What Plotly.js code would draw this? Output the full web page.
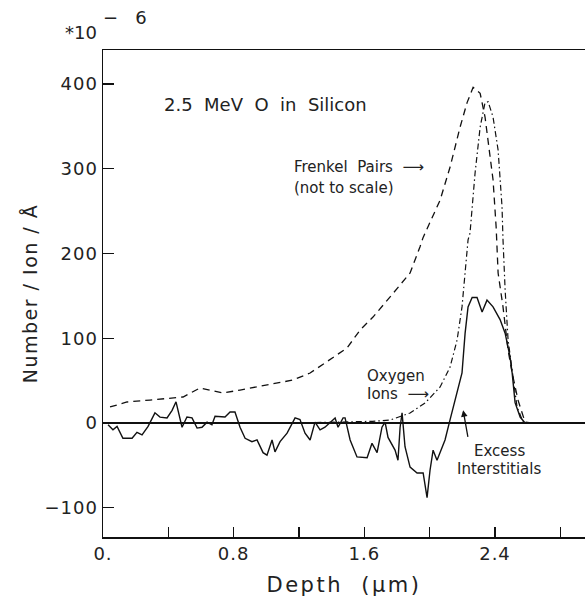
<!DOCTYPE html>
<html>
<head>
<meta charset="utf-8">
<script src="https://cdn.plot.ly/plotly-3.0.1.min.js"></script>
<style>
  html, body { margin: 0; padding: 0; background: #fff; }
  #chart { width: 585px; height: 603px; }
  .xtitle { letter-spacing: 2.5px; }
  .ytitle { letter-spacing: 1.5px; }
  .xtick text, .ytick text { letter-spacing: 1px; }
</style>
</head>
<body>
<div id="chart"></div>
<script>
// Frenkel pairs (not to scale), dashed
const frenkelX = [0.043, 0.147, 0.288, 0.429, 0.49, 0.594, 0.655, 0.735, 0.839, 1.004, 1.163, 1.268, 1.408, 1.494, 1.574, 1.653, 1.776, 1.88, 1.941, 1.96, 2.064, 2.125, 2.186, 2.229, 2.266, 2.309, 2.339, 2.388, 2.407, 2.419, 2.449, 2.48, 2.505, 2.541, 2.584, 2.62];
const frenkelY = [18.9, 24.8, 27.1, 29.5, 30.7, 41.3, 38.9, 35.4, 38.9, 44.8, 50.7, 59.0, 77.9, 88.5, 109.7, 125, 153, 177, 208, 219, 263, 302, 349, 378, 396, 389, 361, 287, 231, 177, 137, 86, 59, 27, 1, 0];

// Oxygen ions, dash-dot
const oxygenX = [1.30, 1.50, 1.65, 1.757, 1.88, 1.972, 2.064, 2.125, 2.168, 2.198, 2.217, 2.235, 2.247, 2.278, 2.309, 2.339, 2.358, 2.388, 2.419, 2.443, 2.449, 2.462, 2.48, 2.505, 2.535, 2.572, 2.60];
const oxygenY = [0.5, 1, 2, 3.5, 11.8, 23.6, 42.5, 66, 98, 137, 177, 216, 224, 295, 349, 378, 379, 361, 322, 255, 216, 157, 98, 59, 19, 1, 0];

// Excess interstitials, solid
const excessX = [0.031, 0.061, 0.086, 0.122, 0.178, 0.208, 0.239, 0.276, 0.318, 0.349, 0.392, 0.423, 0.447, 0.484, 0.514, 0.545, 0.576, 0.606, 0.637, 0.667, 0.686, 0.747, 0.778, 0.808, 0.839, 0.870, 0.912, 0.943, 0.980, 1.004, 1.035, 1.053, 1.084, 1.127, 1.176, 1.206, 1.237, 1.268, 1.298, 1.329, 1.359, 1.390, 1.421, 1.439, 1.470, 1.482, 1.513, 1.555, 1.617, 1.647, 1.678, 1.708, 1.727, 1.745, 1.788, 1.806, 1.819, 1.831, 1.849, 1.880, 1.923, 1.960, 1.984, 2.002, 2.021, 2.045, 2.094, 2.125, 2.156, 2.198, 2.217, 2.235, 2.260, 2.290, 2.321, 2.351, 2.388, 2.431, 2.462, 2.492, 2.505, 2.523, 2.554, 2.584, 2.95];
const excessY = [-2, -8, -4, -18, -18, -11, -14, -4, 12, 7, 6, 15, 25, -5, 7, 6, -6, -5, 1, -2, 8, 7, 13, 13, -5, -18, -22, -20, -35, -38, -20, -34, -22, -12, 6, 4, -12, -20, 1, -8, -5, 0, 6, -5, 6, 6, -20, -40, -41, -24, -35, -5, 1, -17, -32, -44, -5, 12, -28, -52, -59, -59, -88, -56, -32, -44, -20, 4, 27, 59, 106, 137, 148, 148, 131, 145, 137, 122, 106, 78, 59, 24, 7, 0, 0];

// Axis ticks
const xTickVals = [0, 0.4, 0.8, 1.2, 1.6, 2.0, 2.4, 2.8];
const xTickText = ["0.", "", "0.8", "", "1.6", "", "2.4", ""];
const yTickVals = [-100, 0, 100, 200, 300, 400];
const yTickText = ["\u2212100", "0", "100", "200", "300", "400"];

const FONT = "DejaVu Sans, Liberation Sans, sans-serif";
const INK = "#111";

const traces = [
  { x: frenkelX, y: frenkelY, mode: "lines", line: { color: INK, width: 1.3, dash: "7px,5px" }, showlegend: false, hoverinfo: "skip" },
  { x: oxygenX, y: oxygenY, mode: "lines", line: { color: INK, width: 1.2, dash: "6px,3px,1.5px,3px" }, showlegend: false, hoverinfo: "skip" },
  { x: excessX, y: excessY, mode: "lines", line: { color: INK, width: 1.4 }, showlegend: false, hoverinfo: "skip" }
];

function pxX(p) { return (p - 103) / 482; }
function pxY(p) { return (537 - p) / 487; }

const annFont = { family: FONT, size: 15, color: "#222" };
const annotations = [
  { xref: "paper", yref: "paper", x: pxX(63), y: pxY(33), xanchor: "left", yanchor: "middle", text: "*10", showarrow: false, font: { family: FONT, size: 18, color: "#222" } },
  { xref: "paper", yref: "paper", x: pxX(101), y: pxY(18), xanchor: "left", yanchor: "middle", text: "\u2212\u00a0\u00a0\u00a06", showarrow: false, font: { family: FONT, size: 18, color: "#222" } },
  { xref: "paper", yref: "paper", x: pxX(162), y: pxY(105), xanchor: "left", yanchor: "middle", text: "2.5\u00a0\u00a0MeV\u00a0\u00a0O\u00a0\u00a0in\u00a0\u00a0Silicon", showarrow: false, font: { family: FONT, size: 18, color: "#222" } },
  { xref: "paper", yref: "paper", x: pxX(292), y: pxY(167), xanchor: "left", yanchor: "middle", text: "Frenkel\u00a0\u00a0Pairs\u00a0\u00a0\u27f6", showarrow: false, font: annFont },
  { xref: "paper", yref: "paper", x: pxX(292), y: pxY(188), xanchor: "left", yanchor: "middle", text: "(not to scale)", showarrow: false, font: annFont },
  { xref: "paper", yref: "paper", x: pxX(365), y: pxY(376), xanchor: "left", yanchor: "middle", text: "Oxygen", showarrow: false, font: annFont },
  { xref: "paper", yref: "paper", x: pxX(365), y: pxY(394), xanchor: "left", yanchor: "middle", text: "Ions\u00a0\u00a0\u27f6", showarrow: false, font: annFont },
  { xref: "paper", yref: "paper", x: pxX(499), y: pxY(451), xanchor: "center", yanchor: "middle", text: "Excess", showarrow: false, font: annFont },
  { xref: "paper", yref: "paper", x: pxX(499), y: pxY(469), xanchor: "center", yanchor: "middle", text: "Interstitials", showarrow: false, font: annFont },
  { xref: "x", yref: "y", x: 2.205, y: 15, ax: 5, ay: 28, text: "", showarrow: true, arrowhead: 2, arrowsize: 1, arrowwidth: 1.3, arrowcolor: INK, standoff: 0 }
];

const layout = {
  width: 585,
  height: 603,
  margin: { l: 103, r: 0, t: 50, b: 66, pad: 0 },
  paper_bgcolor: "#fff",
  plot_bgcolor: "#fff",
  font: { family: FONT, color: "#222" },
  showlegend: false,
  xaxis: {
    range: [0, 2.951],
    tickmode: "array",
    tickvals: xTickVals,
    ticktext: xTickText,
    ticks: "inside",
    ticklen: 10,
    tickwidth: 1.3,
    tickcolor: INK,
    showline: true,
    linecolor: INK,
    linewidth: 1.5,
    mirror: true,
    showgrid: false,
    zeroline: false,
    tickfont: { family: FONT, size: 18, color: "#222" },
    title: { text: "Depth\u00a0\u00a0(\u03bcm)", font: { family: FONT, size: 21, color: "#222" }, standoff: 14 },
    fixedrange: true
  },
  yaxis: {
    range: [-134.5, 440.1],
    tickmode: "array",
    tickvals: yTickVals,
    ticktext: yTickText,
    ticks: "inside",
    ticklen: 11,
    tickwidth: 1.3,
    tickcolor: INK,
    showline: true,
    linecolor: INK,
    linewidth: 1.5,
    mirror: false,
    showgrid: false,
    zeroline: true,
    zerolinecolor: INK,
    zerolinewidth: 1.5,
    tickfont: { family: FONT, size: 18, color: "#222" },
    title: { text: "Number / Ion / \u00c5", font: { family: FONT, size: 19, color: "#222" }, standoff: 2 },
    fixedrange: true
  },
  annotations: annotations
};

Plotly.newPlot("chart", traces, layout, { displayModeBar: false, staticPlot: true });
</script>
</body>
</html>
